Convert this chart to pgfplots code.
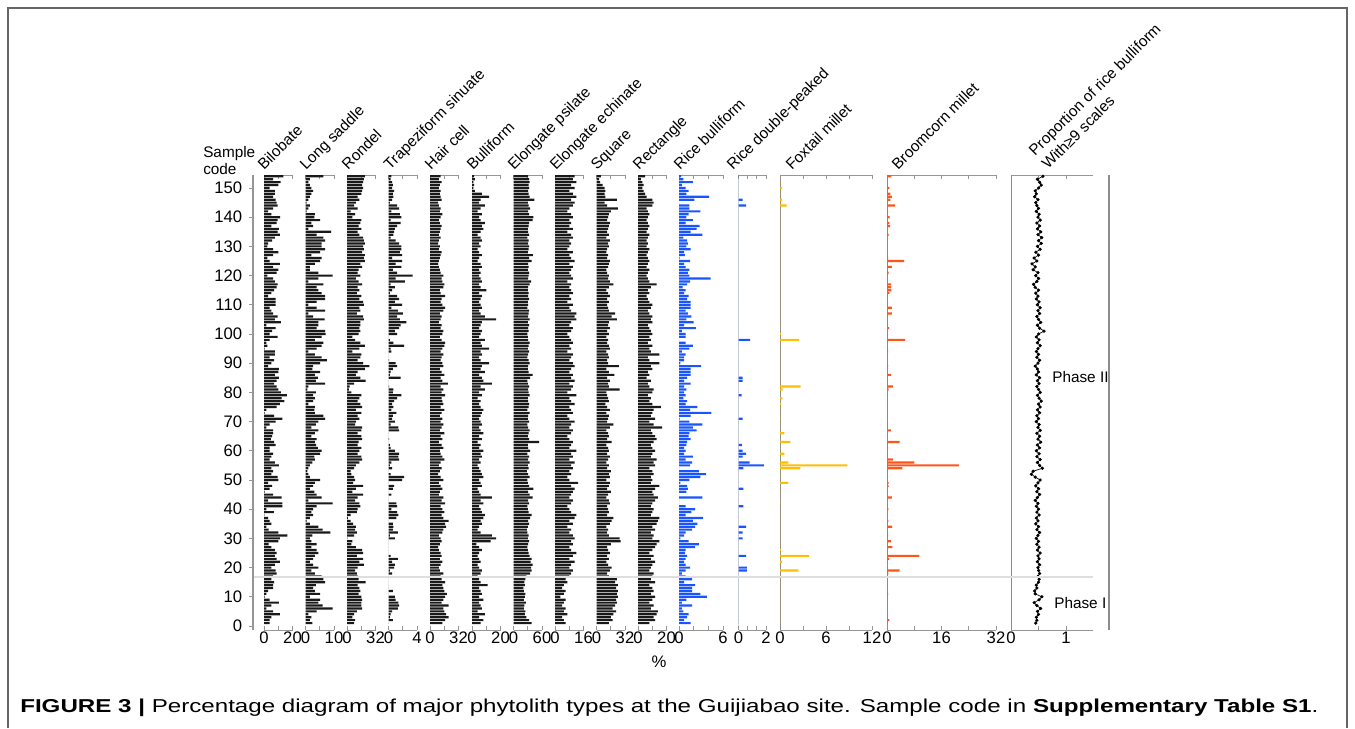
\documentclass[border=0pt]{standalone}
\usepackage{fontspec}
\setmainfont{Liberation Sans}
\usepackage{graphicx}
\usepackage{pgfplots}
\usepackage{pgfplotstable}
\pgfplotsset{compat=1.18}

\definecolor{barblk}{RGB}{25,25,25}
\definecolor{riceblue}{RGB}{25,85,255}
\definecolor{foxy}{RGB}{255,190,0}
\definecolor{broom}{RGB}{255,85,25}
\definecolor{axgray}{RGB}{150,150,150}

\pgfplotstableread{
s bil ls ron tra hc bul ep ee sq rec rb rdp fox brm prop
1 4 2.4 8 0 14 6 38 6 14 8 1.6 0 0 0 0.45
2 4 1.5 9 0.6 17 8 33 5 18 12 0.7 0 0 0.7 0.47
3 5.2 2.1 6 0.2 21 5 27 4 16 11 1.1 0 0 0 0.46
4 11.2 1.0 8 0.3 18 9 24 7 19 13 1.3 0 0 0 0.50
5 6.4 3.9 11 0.5 16 4 25 5 22 14 0.6 0 0 0 0.48
6 1.7 9.5 17 1.3 15 7 22 6 18 9 0.4 0 0 0 0.54
7 5.2 6.0 16 1.5 21 6 23 4 21 11 1.8 0 0 0 0.47
8 10.5 4.5 16 1.4 13 5 26 5 23 8 0.4 0 0 0 0.42
9 4 5.1 17 1.0 15 8 22 6 22 10 1.0 0 0 0 0.51
10 0.5 1.5 16 0.9 17 5 24 3 24 12 3.8 0 0 0 0.56
11 1.7 5.1 13 0 19 7 25 5 23 9 2.9 0 0 0.3 0.44
12 2.9 3.3 15 0.6 16 6 22 6 24 11 1.8 0 0 0 0.43
13 6.4 2.7 14 0 15 5 21 4 22 10 1.8 0 0 0 0.47
14 6.4 3.6 12 0 14 11 24 5 24 8 2.2 0 0 0 0.46
15 7.1 6.9 21 0 17 6 23 7 21 12 0.7 0 0 0 0.50
16 5.2 6.3 13 0 13 5 25 6 23 9 1.8 0 0 0 0.51
17 6.4 5.7 12 0 12 4 27 8 14 10 0.9 0 0 0 0.49
18 8.8 3.3 11 0.5 15 6 35 9 12 11 0.4 0 0 0.4 0.52
19 8.1 2.1 9 0.2 11 7 38 10 15 8 0.9 0.6 2.4 3.7 0.50
20 5.2 4.5 12 0.8 10 5 37 8 17 9 1.5 0.6 0 0 0.49
21 7.6 2.7 19 0.9 12 4 40 9 13 10 0.9 0 0 0 0.52
22 11.2 1.5 14 0.5 14 6 36 11 11 12 0.7 0 0.26 0 0.48
23 8.8 2.7 18 1.3 11 5 38 8 14 9 0.9 0 0 0.6 0.51
24 7.6 3.3 11 0.3 13 4 34 10 12 11 1.1 0.55 3.8 9.5 0.49
25 8.8 4.5 18 0 12 5 32 12 15 8 0.8 0 0 0 0.53
26 7.6 3.9 17 0 10 7 30 9 13 10 0.9 0 0.1 0 0.48
27 5.2 2.1 10 0 9 5 29 8 12 12 2.2 0 0 1.6 0.51
28 3.3 3.9 5 0 11 3 31 10 16 13 2.7 0 0 0 0.47
29 10 2.1 6 0 13 13 33 9 27 15 1.3 0 0 1.2 0.50
30 11.2 1.5 0.5 0.9 12 17 30 11 26 10 0.2 0.3 0 0 0.46
31 16.4 2.4 8 0.2 10 14 32 10 14 11 0.7 0 0 0.3 0.49
32 10 8.7 11 1.3 14 6 29 8 12 9 0.9 0.3 0 0 0.52
33 3.3 6.0 9 0.6 15 4 28 9 13 12 1.8 0 0 0 0.47
34 1.7 4.5 10 0.7 18 5 30 7 11 10 2.2 0.55 0 1.5 0.50
35 5.2 1.5 7 0.6 17 7 33 10 15 13 2.5 0 0 0 0.45
36 4 0.4 4 0 21 6 31 8 17 14 1.9 0 0 0.4 0.49
37 2.9 1.5 1 1.1 15 8 35 11 19 15 3.3 0 0 0 0.46
38 0.3 2.7 4 1.4 13 9 38 12 12 9 0.9 0 0 0 0.51
39 6.9 2.1 11 1.2 16 7 32 9 14 10 1.7 0 0 0 0.47
40 1.7 2.7 12 0.4 14 6 30 8 13 11 2.2 0 0 0.4 0.50
41 12.9 3.9 15 1.2 12 5 29 7 12 9 0.9 0.35 0 0 0.46
42 12.9 9.5 14 1.1 17 8 33 9 15 10 0 0 0.05 0 0.49
43 2.9 1.0 9 0 13 6 31 10 14 12 0 0 0 0 0.44
44 12.4 5.7 12 0 15 14 40 8 11 14 3.2 0 0 1.4 0.48
45 6.4 3.9 18 0.4 10 6 34 9 13 11 0 0 0 0 0.52
46 0.5 3.1 6 0 11 5 31 10 16 10 1.0 0 0 0 0.47
47 4 1.5 10 0.6 14 4 42 11 12 12 1.2 0.35 0 0 0.50
48 5.7 2.7 18 0.8 12 7 33 9 14 15 1.1 0 0 0.5 0.45
49 2.9 3.3 7 0 10 6 30 13 15 9 0.2 0 1.1 0.5 0.49
50 10 5.1 9 1.9 15 5 29 8 11 10 1.4 0 0 0 0.53
51 9.5 1.5 8 2.2 12 8 34 7 15 9 2.9 0 0 0 0.44
52 5.2 1.0 5 0.3 9 7 31 9 14 11 3.7 0 0 0 0.37
53 6.4 0.7 4 0 11 6 28 8 16 10 2.7 0 0 0 0.40
54 5.2 1.0 8 0.5 13 5 32 10 12 8 0 0.35 2.65 4.5 0.57
55 10.5 1.5 10 0.2 10 4 30 9 14 12 1.5 1.85 8.8 21.1 0.52
56 7.6 2.4 14 0.4 12 6 34 11 11 11 1.8 0.8 1.1 8.0 0.48
57 4.0 3.3 17 1.5 16 5 31 8 13 13 0.9 0 0 1.7 0.53
58 5.2 3.1 16 1.4 14 7 33 10 15 9 1.9 0.3 0 0 0.47
59 6.4 5.1 12 1.5 12 6 29 9 12 10 0.7 0.55 0.57 0 0.51
60 4.0 5.7 14 0.9 11 8 35 12 14 12 0.9 0.3 0 0 0.46
61 4.0 4.3 16 0.3 15 5 31 8 13 10 0.7 0 0 0.3 0.52
62 8.1 3.7 12 0.2 13 6 30 9 11 9 1.0 0.25 0 0 0.48
63 7.1 3.3 13 0 10 4 54 10 17 11 1.1 0 1.35 3.7 0.54
64 4.8 3.9 17 0.1 14 7 33 8 12 13 1.6 0 0 0 0.49
65 5.7 2.1 16 0 12 5 30 7 14 12 1.3 0 0 0 0.52
66 6.4 3.3 12 0 16 8 32 9 13 10 1.4 0 0.57 0 0.47
67 6.4 4.5 16 1.5 11 6 34 10 11 9 2.4 0 0 1.1 0.53
68 1.7 2.1 17 1.4 13 5 31 8 15 17 1.9 0 0 0 0.49
69 4.0 3.6 9 0.3 15 7 29 9 19 11 3.2 0 0 0 0.51
70 8.1 4.5 10 0.9 12 6 33 11 12 8 1.4 0 0 0 0.46
71 12.9 6.9 14 0.5 14 5 30 8 13 12 0.1 0.3 0.05 0 0.50
72 7.1 6.3 12 0.6 11 6 31 7 14 9 1.6 0 0 0 0.47
73 0.5 3.3 16 1.1 13 7 34 10 11 10 4.4 0 0 0 0.52
74 1.7 3.1 10 0.4 16 8 29 9 15 11 1.5 0 0 0 0.48
75 8.8 3.3 17 0.7 12 6 32 8 12 16 2.5 0 0 0 0.53
76 11.2 1.0 15 0.5 15 5 33 11 10 10 0.9 0 0.15 0 0.50
77 14.3 2.7 12 0.8 14 6 31 9 14 8 1.1 0 0 0 0.55
78 12.4 3.3 14 1.2 13 4 30 8 13 9 0.6 0 0.3 0 0.51
79 16 2.7 16 1.8 17 7 34 12 12 7 0.9 0.22 0 0 0.48
80 11.9 3.6 5 0.6 13 5 32 7 11 10 0.7 0 0 0 0.53
81 10 0.7 2 0.7 15 9 31 9 26 11 1.0 0 0.35 0.5 0.50
82 8.8 1.0 3 0.1 12 6 33 10 14 8 0.7 0 2.7 1.7 0.47
83 7.1 6.9 8 0 20 14 30 8 13 7 1.6 0 0 0 0.51
84 8.8 3.6 21 0 14 8 29 11 15 9 0.7 0.3 0 0 0.48
85 10.5 4.3 15 1.7 12 7 35 9 12 6 1.1 0.3 0 0 0.52
86 7.6 3.3 10 0.2 16 5 40 10 20 8 1.6 0 0 1.2 0.46
87 10 5.1 12 0.3 13 9 32 8 14 7 1.6 0 0 0 0.50
88 10.5 2.4 20 0.6 11 6 30 9 11 10 1.6 0 0 0 0.48
89 2.9 2.7 25 1.2 15 7 31 11 25 9 3.0 0 0 0.3 0.44
90 5.2 5.1 18 1.0 14 12 34 10 13 15 0.2 0 0 0 0.49
91 7.1 7.5 12 0.1 12 6 32 8 12 8 0.7 0 0 0 0.52
92 4.0 5.7 15 0 13 5 29 9 14 7 0.7 0 0 0 0.47
93 7.6 3.3 16 0 15 7 31 10 13 15 0.9 0 0 0 0.50
94 7.6 1.0 6 0.4 12 6 33 7 11 9 0.4 0 0 0.3 0.46
95 0.5 3.9 14 0.3 14 12 30 9 15 8 1.4 0 0 0 0.49
96 2.4 5.7 20 2.2 16 7 32 8 14 10 1.9 0 0 0 0.53
97 1.7 6.3 15 0.7 17 6 34 10 12 7 0.9 0 0 0 0.48
98 4.0 3.3 9 0.2 13 9 31 9 13 9 0 0.85 2.5 5.3 0.51
99 9.5 5.7 6 0 11 5 30 8 11 8 0.9 0 0 0 0.46
100 4.0 7.1 13 1.2 14 6 29 7 14 10 0.9 0 0.1 0 0.50
101 5.7 6.9 15 0.9 15 7 32 9 12 9 0.4 0 0 0 0.60
102 8.1 3.9 14 1.5 12 5 31 10 15 8 2.3 0 0 0.6 0.52
103 1.7 4.5 15 1.7 13 6 33 8 13 7 0.7 0 0 0 0.48
104 11.9 4.5 15 2.5 10 7 30 9 14 10 2.0 0 0 0 0.54
105 7.6 6.7 19 1.6 12 17 34 12 23 9 1.0 0 0 0 0.50
106 9.5 2.7 18 1.2 13 9 31 11 17 10 1.7 0 0 0 0.47
107 6.4 1.0 11 2.0 11 6 32 12 21 8 1.2 0 0 1.4 0.52
108 5.2 6.9 15 1.3 15 5 33 9 14 7 0.9 0 0 0 0.49
109 4 3.9 14 0.4 17 7 29 8 13 9 1.6 0 0 1.4 0.53
110 8.1 1.0 19 1.9 14 6 31 10 12 10 1.6 0 0 0 0.48
111 8.1 3.9 18 0.9 12 5 30 7 14 8 1.6 0 0 0 0.51
112 8.1 6.9 14 1.5 13 6 33 9 12 7 1.1 0 0 0 0.46
113 2.9 6.9 16 1.2 17 7 31 8 15 6 1.3 0 0 0 0.49
114 5.2 5.7 11 0.2 12 5 32 10 13 8 0.7 0 0 0.7 0.45
115 7.1 4.5 14 0.5 11 10 30 9 11 7 0.9 0 0 1.3 0.50
116 8.8 3.9 12 0.9 15 6 31 8 14 9 0.5 0 0 1.2 0.44
117 9.5 6.3 17 0.3 16 5 34 9 19 13 1.1 0 0 1.2 0.41
118 7.6 1.0 13 2.3 14 7 37 7 15 8 1.5 0 0 0 0.47
119 6.4 4.5 10 1.0 13 6 31 10 13 7 4.3 0 0 0 0.50
120 2.4 9.5 15 3.4 15 5 32 9 14 6 1.4 0 0 0 0.45
121 8.8 4.5 12 1.2 12 6 33 8 12 7 1.2 0 0 0.5 0.49
122 10 1.5 13 0.6 11 5 30 9 11 8 1.4 0 0 0 0.40
123 6.4 1.5 17 1.8 10 7 32 10 13 6 0.9 0 0 1.4 0.44
124 11.2 3.3 15 1.0 9 6 31 8 14 7 0.7 0 0 0 0.38
125 4 5.1 20 1.9 10 4 38 11 15 8 1.5 0 0 5.0 0.47
126 2.4 5.7 19 0.5 11 5 33 9 12 7 0.1 0 0 0.3 0.42
127 6.4 2.1 20 1.9 12 7 41 8 13 6 0.8 0 0 0 0.50
128 10 5.1 17 1.6 13 5 30 10 11 7 0.7 0 0 0 0.45
129 6.4 6.9 19 1.8 10 4 32 7 12 8 1.6 0 0 0 0.53
130 2.4 5.7 18 1.8 11 6 33 8 14 6 1.0 0 0 0 0.48
131 2.9 5.7 20 1.5 9 5 31 9 13 7 1.2 0 0 0 0.55
132 5.7 6.9 19 1.0 10 7 32 8 15 6 1.1 0 0 0 0.50
133 7.6 6.3 18 0.3 12 6 29 10 11 7 0.6 0 0 0 0.56
134 11.2 3.9 14 0.7 10 4 33 9 14 8 3.2 0 0 0.5 0.49
135 9.5 9.0 12 0.8 11 6 31 7 12 6 1.6 0 0 0 0.54
136 10.5 1.0 16 0.9 12 8 30 10 13 7 2.4 0 0 0 0.48
137 5.2 2.7 13 1.2 13 7 32 8 14 8 2.8 0 0 0.9 0.52
138 8.8 2.1 15 1.7 11 9 33 9 15 7 0.9 0 0 0.7 0.47
139 9.5 5.1 16 0.3 10 6 40 8 12 6 1.9 0 0 0 0.53
140 11.4 3.1 6 1.8 12 5 42 10 13 7 1.0 0 0 0.8 0.49
141 5.2 3.3 9 1.6 14 7 33 9 14 8 1.3 0 0 0 0.51
142 2.9 0.4 4 0.4 11 4 31 7 16 7 2.9 0 0 0.3 0.46
143 6.4 1.0 12 1.5 12 6 35 8 24 6 1.4 0 0 0 0.50
144 9.5 1.5 8 1.2 10 9 32 10 12 10 1.4 0.55 0.87 2.35 0.47
145 8.8 0.4 10 0.2 9 5 30 11 9 11 0 0 0 0 0.45
146 8.1 1.0 14 0.5 13 6 44 9 23 10 2.1 0.3 0.26 1.0 0.49
147 6.4 1.5 12 0.7 12 12 34 12 10 6 4.1 0 0 1.4 0.43
148 7.6 2.1 16 0.6 11 7 32 10 9 5 1.0 0 0 1.0 0.46
149 7.6 2.7 17 0.8 12 2 31 8 10 4 1.3 0 0 0 0.44
150 4 2.1 18 0.5 10 1 33 11 9 3 0.9 0 0.26 0.7 0.50
151 10 1.5 17 0.6 11 1.5 32 9 7 4 0.4 0 0 0 0.55
152 11.7 1.0 18 0.5 13 1 34 12 4 3 1.9 0 0 0 0.52
153 6.4 1.5 19 0.3 10 2 33 10 3 2 0.6 0 0 0 0.48
154 13.6 6.3 20 0.4 12 1.5 31 11 5 5 0.3 0 0 1.27 0.58
}\data

\tikzset{zeroline/.style={draw=black!45, line width=0.9pt}}

\pgfplotsset{
  panel/.style={
    scale only axis, anchor=south west, height=341.25pt,
    ymin=-1.37, ymax=154.45, ytick=\empty, xmin=0,
    axis y line=none, axis x line=box,
    x axis line style={-, draw=axgray, line width=0.6pt},
    tick style={draw=axgray, line width=0.6pt},
    major tick length=3pt, tick align=inside,
    xtick pos=both, xticklabel pos=bottom,
    xticklabel style={font=\fontsize{12.5}{13}\selectfont, inner sep=1.5pt},
  },
  bars/.style={xbar, draw=none, bar width=0.74},
}

% #1 = x position in px
\newcommand\blackpanel[5]{%
  \begin{axis}[panel, at={({#1*0.75pt},{73.5pt})}, width=21.375pt, xmax=#3,
      xtick={0,#4,#3}, xticklabels={0,,#5}]
    \addplot[bars, fill=barblk] table[x=#2,y=s]{\data};
  \end{axis}}

\newcommand\hdr[3]{\node[rotate=45, anchor=base west, inner sep=0pt,
  font=\fontsize{11.5}{13}\selectfont] at (#1,#2) {#3};}

\begin{document}
\begin{tikzpicture}[x=0.75pt,y=0.75pt]
\path[use as bounding box] (0,0) rectangle (1355,728);
% frame
\draw[black!60, line width=1.2pt] (8,0) -- (8,720) -- (1347,720) -- (1347,0);

% y axis
\begin{axis}[scale only axis, anchor=south west, at={(189.75pt,73.5pt)}, width=0.75pt,
    height=341.25pt, ymin=-1.37, ymax=154.45, xmin=0, xmax=1,
    hide x axis, axis y line*=left,
    y axis line style={-, draw=axgray, line width=0.8pt},
    tick style={draw=axgray, line width=0.6pt}, major tick length=3pt,
    tick align=outside,
    ytick={0,10,...,150},
    /pgf/number format/assume math mode=true,
    yticklabel style={font=\fontsize{12.5}{13}\selectfont, inner sep=2pt, xshift=-3pt}]
\end{axis}

\blackpanel{264}{bil}{20}{10}{20}
\blackpanel{305.5}{ls}{10}{5}{10}
\blackpanel{347}{ron}{32}{16}{32}
\blackpanel{388.5}{tra}{4}{2}{4}
\blackpanel{430}{hc}{32}{16}{32}
\blackpanel{472}{bul}{20}{10}{20}
\blackpanel{513.5}{ep}{60}{30}{60}
\blackpanel{555}{ee}{16}{8}{16}
\blackpanel{596.5}{sq}{32}{16}{32}
\blackpanel{638}{rec}{20}{10}{20}

% rice bulliform
\begin{axis}[panel, at={(509.25pt,73.5pt)}, width=33pt, xmax=6,
    xtick={0,2,4,6}, xticklabels={0,,,6}]
  \addplot[bars, fill=riceblue] table[x=rb,y=s]{\data};
\end{axis}
% rice double-peaked
\begin{axis}[panel, at={(553.875pt,73.5pt)}, width=20.625pt, xmax=2,
    xtick={0,0.6667,1.3333,2}, xticklabels={0,,,2}]
  \draw[zeroline] (axis cs:0,-1.37) -- (axis cs:0,154.45);
  \addplot[bars, fill=riceblue] table[x=rdp,y=s]{\data};
\end{axis}
% foxtail
\begin{axis}[panel, at={(585pt,73.5pt)}, width=69pt, xmax=12,
    xtick={0,3,6,9,12}, xticklabels={0,,6,,12}]
  \draw[zeroline] (axis cs:0,-1.37) -- (axis cs:0,154.45);
  \addplot[bars, fill=foxy] table[x=fox,y=s]{\data};
\end{axis}
% broomcorn
\begin{axis}[panel, at={(665.25pt,73.5pt)}, width=81.75pt, xmax=32,
    xtick={0,8,16,24,32}, xticklabels={0,,16,,32}]
  \draw[zeroline] (axis cs:0,-1.37) -- (axis cs:0,154.45);
  \addplot[bars, fill=broom] table[x=brm,y=s]{\data};
\end{axis}
% proportion
\begin{axis}[panel, at={(758.25pt,73.5pt)}, width=61.5pt, xmax=1.49,
    xtick={0,0.5,1}, xticklabels={0,,1}]
  \draw[zeroline] (axis cs:0,-1.37) -- (axis cs:0,154.45);
  \addplot[black, line width=0.5pt, mark=*, mark size=0.95pt,
    mark options={fill=black}] table[x=prop,y=s]{\data};
\end{axis}

% phase lines
\draw[black!13, line width=0.8pt] (254,151) -- (1093,151);
\draw[black!45, line width=0.9pt] (1109,98) -- (1109,553);
\node[anchor=west, inner sep=0pt, font=\fontsize{11.5}{12}\selectfont] at (1052,351) {Phase II};
\node[anchor=west, inner sep=0pt, font=\fontsize{11.5}{12}\selectfont] at (1054,125) {Phase I};

% headers
\node[anchor=base west, inner sep=0pt, font=\fontsize{11.5}{12}\selectfont] at (203,570) {Sample};
\node[anchor=base west, inner sep=0pt, font=\fontsize{11.5}{12}\selectfont] at (203,553) {code};
\hdr{264}{557}{Bilobate}
\hdr{306}{557}{Long saddle}
\hdr{348}{557}{Rondel}
\hdr{390}{557}{Trapeziform sinuate}
\hdr{431}{557}{Hair cell}
\hdr{473}{557}{Bulliform}
\hdr{514}{557}{Elongate psilate}
\hdr{556}{557}{Elongate echinate}
\hdr{597}{557}{Square}
\hdr{639}{557}{Rectangle}
\hdr{680}{557}{Rice bulliform}
\hdr{733}{557}{Rice double-peaked}
\hdr{792}{557}{Foxtail millet}
\hdr{898}{557}{Broomcorn millet}
\hdr{1035}{571}{Proportion of rice bulliform}
\hdr{1048}{558}{With≥9 scales}

\node[font=\fontsize{12.5}{13}\selectfont] at (659,66) {\%};

% caption
\node[anchor=base west, inner sep=0pt] at (20,16) {\resizebox{973.5pt}{\height}{\fontsize{14}{16}\selectfont\textbf{FIGURE 3 |} Percentage diagram of major phytolith types at the Guijiabao site. Sample code in \textbf{Supplementary Table S1}.}};
\end{tikzpicture}
\end{document}
